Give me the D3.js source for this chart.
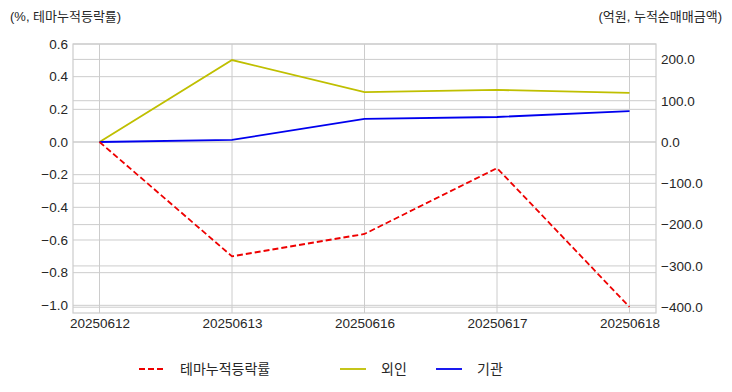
<!DOCTYPE html>
<html><head><meta charset="utf-8">
<script src="https://cdn.jsdelivr.net/npm/d3@7"></script>
<style>
body{margin:0;background:#fff;}
text{font-family:"Liberation Sans","Noto Sans CJK KR",Arial,sans-serif;fill:#262626;}
</style></head><body>
<svg id="c" width="732" height="392"></svg>
<script>
const dates = ["20250612","20250613","20250616","20250617","20250618"];
const themeRet = [0, -0.70, -0.563, -0.16, -1.01];
const foreign = [0, 198.5, 121, 126, 119];
const inst = [0, 5, 56, 60.5, 75];
const leftTicks = [0.6,0.4,0.2,0.0,-0.2,-0.4,-0.6,-0.8,-1.0];
const rightTicks = [200,100,0,-100,-200,-300,-400];

const svg = d3.select("#c");
const L=73,R=656,T=44,B=313;
const x = d3.scalePoint().domain(dates).range([L,R]).padding(0.2);
const yL = d3.scaleLinear().domain([-1.047,0.6]).range([B,T]);
const yR = d3.scaleLinear().domain([-414,237.3]).range([B,T]);
const grid="#cccccc";

const g=svg.append("g");
g.selectAll(".gl").data(leftTicks).join("line").attr("x1",L).attr("x2",R)
 .attr("y1",d=>yL(d)).attr("y2",d=>yL(d)).attr("stroke",grid).attr("stroke-width",1);
g.selectAll(".gr").data(rightTicks).join("line").attr("x1",L).attr("x2",R)
 .attr("y1",d=>yR(d)).attr("y2",d=>yR(d)).attr("stroke",grid).attr("stroke-width",1);
g.selectAll(".gx").data(dates).join("line").attr("x1",d=>x(d)).attr("x2",d=>x(d))
 .attr("y1",T).attr("y2",B).attr("stroke",grid).attr("stroke-width",1);
svg.append("rect").attr("x",L).attr("y",T).attr("width",R-L).attr("height",B-T)
 .attr("fill","none").attr("stroke",grid).attr("stroke-width",1.2);

const axL=d3.axisLeft(yL).tickValues(leftTicks).tickFormat(d3.format(".1f")).tickSize(0).tickPadding(5);
svg.append("g").attr("transform",`translate(${L},0)`).call(axL)
 .call(a=>a.select(".domain").remove())
 .selectAll("text").style("font-size","13.5px").attr("fill","#262626");
const axR=d3.axisRight(yR).tickValues(rightTicks).tickFormat(d3.format(".1f")).tickSize(0).tickPadding(5);
svg.append("g").attr("transform",`translate(${R},0)`).call(axR)
 .call(a=>a.select(".domain").remove())
 .selectAll("text").style("font-size","13.5px").attr("fill","#262626");
const axX=d3.axisBottom(x).tickSize(0).tickPadding(5);
svg.append("g").attr("transform",`translate(0,${B})`).call(axX)
 .call(a=>a.select(".domain").remove())
 .selectAll("text").style("font-size","13.5px").attr("fill","#262626");
svg.selectAll(".tick text").attr("font-family",null);

const lineL=d3.line().x((d,i)=>x(dates[i])).y(d=>yL(d));
const lineR=d3.line().x((d,i)=>x(dates[i])).y(d=>yR(d));
svg.append("path").attr("d",lineR(foreign)).attr("fill","none").attr("stroke","#bfbf00").attr("stroke-width",1.8);
svg.append("path").attr("d",lineR(inst)).attr("fill","none").attr("stroke","#0000ee").attr("stroke-width",1.8);
svg.append("path").attr("d",lineL(themeRet)).attr("fill","none").attr("stroke","#ee0000").attr("stroke-width",1.8).attr("stroke-dasharray","6,3");

svg.append("text").attr("x",10).attr("y",21).style("font-size","13px").text("(%, 테마누적등락률)");
svg.append("text").attr("x",722).attr("y",21).attr("text-anchor","end").style("font-size","13px").text("(억원, 누적순매매금액)");

const leg=[{n:"테마누적등락률",c:"#ee0000",dash:"6,3",x:139},{n:"외인",c:"#bfbf00",dash:null,x:340},{n:"기관",c:"#0000ee",dash:null,x:436}];
const lg=svg.append("g");
leg.forEach(d=>{
 lg.append("line").attr("x1",d.x).attr("x2",d.x+26).attr("y1",369).attr("y2",369).attr("stroke",d.c).attr("stroke-width",1.8).attr("stroke-dasharray",d.dash);
 lg.append("text").attr("x",d.x+41).attr("y",374).style("font-size","14px").text(d.n);
});
</script></body></html>
